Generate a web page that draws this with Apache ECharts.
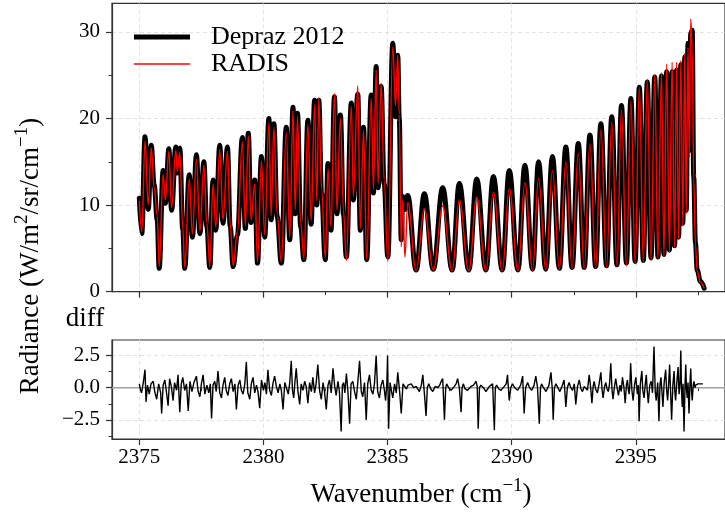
<!DOCTYPE html>
<html><head><meta charset="utf-8">
<script src="https://cdn.jsdelivr.net/npm/echarts@6/dist/echarts.min.js"></script>
<style>html,body{margin:0;padding:0;background:#fff}#c{width:725px;height:516px}</style>
</head><body><div id="c"></div>
<script>
// ---- data ----
const waveX = [
2375.00,2375.10,2375.23,2375.36,2375.48,2375.60,2375.72,2375.80,2375.96,2376.05,
2376.19,2376.30,2376.47,2376.53,2376.63,2376.75,2376.83,2377.01,2377.14,2377.30,
2377.44,2377.60,2377.72,2377.84,2377.97,2378.08,2378.24,2378.37,2378.55,2378.66,
2378.78,2378.95,2379.15,2379.27,2379.39,2379.50,2379.65,2379.76,2379.92,2380.05,
2380.22,2380.31,2380.42,2380.55,2380.72,2380.92,2381.06,2381.19,2381.28,2381.37,
2381.50,2381.63,2381.79,2381.92,2382.06,2382.15,2382.23,2382.34,2382.49,2382.60,
2382.72,2382.86,2382.96,2383.10,2383.22,2383.34,2383.54,2383.62,2383.80,2383.90,
2384.03,2384.16,2384.34,2384.43,2384.54,2384.62,2384.74,2384.86,2385.01,2385.21,
2385.32,2385.41,2385.47,2385.55,2385.61,2385.70,2385.81,
2386.15,2386.48,2386.84,2387.22,2387.60,2387.89,2388.27,2388.59,2388.96,2389.26,
2389.62,2389.90,2390.25,2390.53,2390.84,2391.08,2391.37,2391.64,2391.92,2392.18,
2392.43,2392.68,2392.92,2393.15,2393.38,2393.59,2393.82,2394.03,2394.24,2394.42,
2394.62,2394.80,2394.97,2395.14,2395.30,2395.46,2395.61,2395.76,2395.89,2396.03,
2396.13,2396.24,2396.35,2396.46,2396.56,2396.64,2396.72,2396.81,2396.89,2396.97,
2397.03,2397.10,2397.15,2397.21,2397.27,2397.33,2397.40,2397.47,2397.60,2397.75
];
const depraz = [
10.8,6.7,17.9,9.5,16.9,12.3,8.3,2.7,14.0,10.2,
16.5,9.4,16.7,13.7,16.6,7.1,2.7,13.5,6.3,15.8,
6.7,15.0,7.5,2.8,12.9,7.1,16.9,7.9,16.7,7.5,
2.9,6.5,17.8,7.3,18.3,8.0,12.9,3.3,15.6,6.3,
20.0,8.3,19.4,8.7,3.3,19.0,6.0,21.3,9.0,20.6,
7.5,3.7,19.8,7.8,22.1,10.0,22.1,11.4,3.7,14.8,
7.1,22.5,9.0,20.4,9.0,4.0,21.8,10.6,22.8,7.1,
19.0,3.7,22.7,11.4,26.0,12.0,23.7,12.5,4.0,28.7,
20.2,27.3,20.0,6.0,11.0,9.5,11.1,
2.5,11.3,2.6,12.0,2.5,12.5,2.5,13.0,2.5,13.3,
2.5,14.0,2.5,14.6,2.6,15.0,2.6,15.6,2.7,16.7,
2.8,17.1,2.8,18.1,2.9,19.4,3.0,20.2,3.1,21.5,
3.3,22.3,3.5,23.6,3.6,24.2,3.9,24.8,4.0,24.9,
4.3,25.4,4.8,25.4,5.3,25.6,6.3,26.2,7.9,27.1,
9.4,28.7,16.3,29.8,30.2,13.3,5.6,2.5,1.2,0.4
];
const radis = [
10.5,6.9,17.4,10.0,16.6,12.0,8.8,2.9,13.5,10.6,
16.2,9.7,16.3,13.9,16.1,7.4,2.8,13.0,6.7,15.3,
7.0,14.6,7.9,2.9,12.4,7.5,16.4,8.3,16.2,7.8,
3.0,6.8,17.3,7.6,18.0,8.3,12.4,3.4,15.1,6.6,
19.5,8.8,19.0,9.0,3.4,18.4,6.3,20.9,9.5,20.2,
7.9,3.8,19.3,8.2,21.6,10.5,22.4,11.9,3.9,14.2,
7.5,22.9,9.4,20.0,9.5,3.6,21.4,11.0,23.8,7.3,
18.6,3.7,22.3,11.8,25.6,12.5,24.1,12.9,3.5,28.3,
21.5,27.3,20.5,5.2,10.6,4.0,10.3,
2.4,9.6,2.5,9.9,2.4,10.6,2.4,10.9,2.4,11.5,
2.4,11.9,2.4,12.6,2.5,13.1,2.5,14.0,2.6,15.0,
2.6,16.0,2.6,17.1,2.7,18.7,2.8,19.6,2.9,21.0,
3.0,22.0,3.2,23.6,3.4,24.5,3.6,25.0,3.8,25.3,
4.1,26.3,4.6,26.5,5.1,26.5,6.1,26.7,7.6,27.5,
9.0,28.2,15.5,31.5,28.0,13.0,5.4,2.4,1.1,0.4
];
const diffPoints = [
[2375.00,0.3],[2375.05,-0.2],[2375.09,-0.4],[2375.16,0.4],[2375.23,1.4],[2375.27,-1.1],[2375.33,0.2],[2375.40,-0.5],
[2375.47,0.3],[2375.56,0.5],[2375.62,-0.3],[2375.70,-0.9],[2375.78,0.3],[2375.86,-0.4],[2375.90,-2.0],[2375.96,0.2],
[2376.03,0.6],[2376.09,-0.3],[2376.16,-1.4],[2376.22,0.7],[2376.29,0.1],[2376.36,-1.0],[2376.42,0.4],[2376.50,-0.2],
[2376.56,1.0],[2376.63,-1.9],[2376.69,0.3],[2376.75,0.8],[2376.83,-0.2],[2376.90,0.3],[2376.97,-1.8],[2377.04,0.5],
[2377.12,-0.3],[2377.20,0.4],[2377.30,0.9],[2377.37,-0.3],[2377.44,-0.7],[2377.50,0.3],[2377.57,1.0],[2377.64,-0.5],
[2377.72,0.2],[2377.80,-0.4],[2377.86,0.3],[2377.91,-2.4],[2377.97,0.2],[2378.04,0.5],[2378.10,-0.3],[2378.17,1.3],
[2378.24,-0.4],[2378.31,-0.8],[2378.37,0.2],[2378.44,0.8],[2378.50,-0.2],[2378.57,-0.6],[2378.64,0.3],[2378.71,0.7],
[2378.78,-0.3],[2378.85,0.3],[2378.91,-1.7],[2378.98,0.2],[2379.05,0.6],[2379.11,-0.2],[2379.18,-0.5],[2379.25,0.3],
[2379.31,2.0],[2379.37,-0.4],[2379.45,-0.9],[2379.51,0.3],[2379.58,0.8],[2379.65,-0.4],[2379.72,0.2],[2379.78,-0.3],
[2379.85,-1.6],[2379.92,0.6],[2380.00,-0.2],[2380.06,0.4],[2380.12,-0.5],[2380.18,1.4],[2380.25,-0.2],[2380.32,-0.6],
[2380.38,0.3],[2380.45,0.9],[2380.52,0.1],[2380.59,-0.4],[2380.66,0.3],[2380.72,-0.2],[2380.79,-1.7],[2380.86,0.4],
[2380.92,0.3],[2381.00,-0.5],[2381.06,0.4],[2381.12,2.1],[2381.17,-0.2],[2381.22,-0.8],[2381.27,0.5],[2381.32,1.5],
[2381.39,-0.3],[2381.46,-1.3],[2381.52,0.3],[2381.59,-0.2],[2381.66,0.5],[2381.72,0.1],[2381.79,-1.2],[2381.86,0.4],
[2381.93,-0.3],[2381.99,0.8],[2382.06,-0.4],[2382.12,0.3],[2382.19,1.8],[2382.26,-0.2],[2382.33,-0.9],[2382.40,0.4],
[2382.46,-0.3],[2382.53,-1.7],[2382.60,0.2],[2382.66,0.6],[2382.73,-0.4],[2382.80,1.5],[2382.87,0.1],[2382.93,-0.6],
[2383.00,0.5],[2383.06,-0.3],[2383.13,-3.4],[2383.18,0.2],[2383.23,0.4],[2383.28,-0.4],[2383.34,1.1],[2383.40,-0.2],
[2383.47,-2.8],[2383.53,0.3],[2383.60,0.5],[2383.67,-0.3],[2383.74,-0.9],[2383.80,0.4],[2383.87,2.1],[2383.94,-0.3],
[2384.00,-0.7],[2384.07,0.4],[2384.14,-2.5],[2384.20,0.3],[2384.27,1.0],[2384.34,-0.2],[2384.41,-0.5],[2384.47,0.3],
[2384.54,2.5],[2384.60,-0.3],[2384.67,-0.8],[2384.74,0.2],[2384.81,0.6],[2384.87,-0.2],[2384.92,-1.0],[2384.97,0.3],
[2385.00,2.5],[2385.04,-3.2],[2385.10,0.4],[2385.16,-0.3],[2385.21,-0.8],[2385.28,0.3],[2385.35,-0.4],[2385.41,1.2],
[2385.48,-0.2],[2385.55,-2.0],[2385.62,0.3],[2385.68,0.4],[2385.76,-0.1],[2385.82,0.2],[2385.88,0.2],[2385.95,0.3],
[2386.05,0.0],[2386.15,0.1],[2386.28,-0.3],[2386.36,0.2],[2386.42,1.0],[2386.48,-0.4],[2386.55,-2.2],[2386.60,0.0],
[2386.66,0.3],[2386.74,-0.1],[2386.82,-0.3],[2386.92,0.1],[2387.02,0.0],[2387.10,0.2],[2387.16,0.5],[2387.22,0.7],
[2387.29,-2.5],[2387.34,0.0],[2387.38,0.3],[2387.46,0.0],[2387.56,-0.2],[2387.69,0.1],[2387.76,0.3],[2387.82,0.7],
[2387.89,0.0],[2387.96,-1.9],[2388.00,0.0],[2388.05,0.3],[2388.12,-0.1],[2388.22,-0.2],[2388.36,0.1],[2388.46,0.2],
[2388.56,0.5],[2388.61,0.1],[2388.65,-3.2],[2388.70,0.0],[2388.76,0.2],[2388.86,0.0],[2388.96,-0.3],[2389.10,0.1],
[2389.18,0.2],[2389.23,0.3],[2389.30,-3.3],[2389.34,0.0],[2389.39,0.2],[2389.48,-0.1],[2389.57,-0.2],[2389.70,0.1],
[2389.78,0.3],[2389.83,1.0],[2389.90,-1.0],[2389.96,0.0],[2390.03,0.3],[2390.12,0.0],[2390.24,-0.2],[2390.36,0.2],
[2390.44,0.9],[2390.50,-2.0],[2390.56,0.0],[2390.64,0.4],[2390.72,0.0],[2390.81,-0.2],[2390.90,0.2],[2390.97,0.9],
[2391.04,0.0],[2391.11,-2.8],[2391.16,0.0],[2391.20,0.3],[2391.28,0.0],[2391.38,-0.3],[2391.50,0.2],[2391.58,1.2],
[2391.63,0.0],[2391.67,-2.5],[2391.72,0.0],[2391.78,0.3],[2391.86,0.0],[2391.94,-0.3],[2392.04,0.2],[2392.11,0.6],
[2392.18,-1.5],[2392.24,0.0],[2392.31,0.4],[2392.38,0.0],[2392.45,-0.2],[2392.52,0.3],[2392.58,-1.3],[2392.65,0.1],
[2392.72,0.6],[2392.79,-0.1],[2392.85,-0.3],[2392.92,0.1],[2392.99,0.2],[2393.05,-0.2],[2393.12,1.0],[2393.18,0.0],
[2393.23,-1.2],[2393.28,0.1],[2393.32,0.5],[2393.38,-0.1],[2393.45,-0.4],[2393.52,0.3],[2393.59,1.2],[2393.64,-0.2],
[2393.68,-0.8],[2393.74,0.1],[2393.79,0.4],[2393.84,-0.1],[2393.89,-0.3],[2393.94,0.3],[2393.99,1.9],[2394.04,-0.2],
[2394.08,-0.9],[2394.14,0.1],[2394.19,0.7],[2394.25,-0.1],[2394.30,-0.6],[2394.36,0.2],[2394.41,-0.3],[2394.46,0.8],
[2394.52,0.0],[2394.57,-1.2],[2394.62,0.2],[2394.66,0.6],[2394.70,-0.2],[2394.73,-0.5],[2394.76,0.3],[2394.79,1.9],
[2394.84,-0.2],[2394.89,-1.0],[2394.95,0.3],[2395.00,0.8],[2395.06,-0.5],[2395.10,0.2],[2395.13,-2.6],[2395.18,0.3],
[2395.24,1.3],[2395.28,-0.2],[2395.33,-0.8],[2395.38,0.3],[2395.42,1.0],[2395.46,-0.3],[2395.50,-1.2],[2395.56,0.2],
[2395.62,0.5],[2395.67,-0.4],[2395.73,3.2],[2395.78,-0.3],[2395.82,-1.0],[2395.88,0.4],[2395.93,-2.6],[2395.97,0.2],
[2396.01,0.8],[2396.05,-0.3],[2396.09,-1.5],[2396.14,0.4],[2396.20,1.4],[2396.24,-0.2],[2396.28,-1.0],[2396.32,0.3],
[2396.36,1.8],[2396.40,-0.4],[2396.44,-2.5],[2396.49,0.2],[2396.54,1.3],[2396.57,-0.3],[2396.60,-1.0],[2396.65,0.4],
[2396.70,1.6],[2396.74,-0.5],[2396.78,0.4],[2396.81,2.9],[2396.84,-0.3],[2396.87,-1.5],[2396.90,0.3],[2396.94,-3.4],
[2396.98,0.2],[2397.01,1.8],[2397.04,-0.2],[2397.07,-0.8],[2397.10,0.4],[2397.14,-2.0],[2397.18,0.3],[2397.21,1.5],
[2397.24,-0.2],[2397.27,-1.0],[2397.31,0.2],[2397.34,0.5],[2397.38,0.0],[2397.41,0.2],[2397.50,0.3],[2397.61,0.3],
[2397.70,0.3]
];
const xMajorTicks = [2375, 2380, 2385, 2390, 2395];
const xMinorTicks = [2377.5, 2382.5, 2387.5, 2392.5, 2397.5];
const yTopTicks = [0, 10, 20, 30];
const yTopMinor = [5, 15, 25];
const yDiffTicks = [-2.5, 0, 2.5];
const yDiffMinor = [-3.75, -1.25, 1.25];
const seriesNames = ['Depraz 2012', 'RADIS'];

// ---- layout / style ----
const X_MIN = 2373.9, X_MAX = 2398.59;
const TOP_MIN = 0, TOP_MAX = 33.3;
const BOT_MIN = -3.99, BOT_MAX = 3.71;
const FONT = 'Liberation Serif';
const SPINE = '#333';
const GRIDC = '#dcdcdc';
const BLACK_W = 5, RED_W = 1.4;

const chart = echarts.init(document.getElementById('c'), null, {renderer: 'canvas'});

function xMain(gi, showLabel) {
  return {
    type: 'value', gridIndex: gi, min: X_MIN, max: X_MAX, position: 'bottom',
    axisLine: {show: true, onZero: false, lineStyle: {color: SPINE, width: 1.2}},
    axisTick: {show: true, customValues: xMajorTicks, length: 6, inside: false, lineStyle: {color: SPINE, width: 1.2}},
    axisLabel: {show: showLabel, customValues: xMajorTicks, margin: 8, fontFamily: FONT, fontSize: 21, color: '#000',
      formatter: v => String(Math.round(v))},
    splitLine: {show: true, lineStyle: {color: GRIDC, type: [4, 3], width: 0.8}},
    minorTick: {show: false}
  };
}
function xMinor(gi) {
  return {
    type: 'value', gridIndex: gi, min: X_MIN, max: X_MAX, position: 'bottom', offset: 0,
    axisLine: {show: false},
    axisTick: {show: true, customValues: xMinorTicks, length: 3.5, lineStyle: {color: SPINE, width: 1}},
    axisLabel: {show: false}, splitLine: {show: false}
  };
}
function yMain(gi, mn, mx, ticks, fmt) {
  return {
    type: 'value', gridIndex: gi, min: mn, max: mx, position: 'left',
    axisLine: {show: true, onZero: false, lineStyle: {color: SPINE, width: 1.2}},
    axisTick: {show: true, customValues: ticks, length: 6, lineStyle: {color: SPINE, width: 1.2}},
    axisLabel: {show: true, customValues: ticks, margin: 12, fontFamily: FONT, fontSize: 21, color: '#000', formatter: fmt},
    splitLine: {show: true, lineStyle: {color: GRIDC, type: [4, 3], width: 0.8}}
  };
}
function yMinor(gi, mn, mx, ticks) {
  return {
    type: 'value', gridIndex: gi, min: mn, max: mx, position: 'left', offset: 0,
    axisLine: {show: false},
    axisTick: {show: true, customValues: ticks, length: 3.5, lineStyle: {color: SPINE, width: 1}},
    axisLabel: {show: false}, splitLine: {show: false}
  };
}

const fmtTop = v => String(Math.round(v));
const fmtBot = v => (v < 0 ? '\u2212' : '') + Math.abs(v).toFixed(1);

const depData = waveX.map((x, i) => [x, depraz[i]]);
const radData = waveX.map((x, i) => [x, radis[i]]);

const legendCommon = {
  orient: 'vertical', left: 134, padding: 0, itemGap: 0, itemWidth: 56, selectedMode: false, icon: 'rect',
  textStyle: {fontFamily: FONT, fontSize: 26, color: '#000', padding: [0, 0, 0, 16], lineHeight: 28}
};

const option = {
  animation: false,
  backgroundColor: '#fff',
  grid: [
    {left: 112, top: 3.3, width: 614, height: 288.4, show: true, borderColor: SPINE, borderWidth: 1.2, backgroundColor: 'transparent'},
    {left: 112, top: 340, width: 614, height: 99, show: true, borderColor: SPINE, borderWidth: 1.2, backgroundColor: 'transparent'}
  ],
  xAxis: [xMain(0, false), xMinor(0), xMain(1, true), xMinor(1)],
  yAxis: [
    yMain(0, TOP_MIN, TOP_MAX, yTopTicks, fmtTop), yMinor(0, TOP_MIN, TOP_MAX, yTopMinor),
    yMain(1, BOT_MIN, BOT_MAX, yDiffTicks, fmtBot), yMinor(1, BOT_MIN, BOT_MAX, yDiffMinor)
  ],
  legend: [
    Object.assign({}, legendCommon, {data: [seriesNames[0]], top: 23, itemHeight: BLACK_W}),
    Object.assign({}, legendCommon, {data: [seriesNames[1]], top: 50, itemHeight: RED_W})
  ],
  series: [
    {name: seriesNames[0], type: 'line', xAxisIndex: 0, yAxisIndex: 0, data: depData,
      symbol: 'none', showSymbol: false, smooth: 0.4, smoothMonotone: 'x', z: 2,
      lineStyle: {color: '#000', width: BLACK_W, join: 'round', cap: 'round'}, itemStyle: {color: '#000'}},
    {name: seriesNames[1], type: 'line', xAxisIndex: 0, yAxisIndex: 0, data: radData,
      symbol: 'none', showSymbol: false, smooth: 0.4, smoothMonotone: 'x', z: 3,
      lineStyle: {color: '#ff0000', width: RED_W}, itemStyle: {color: '#ff0000'}},
    {name: 'zero', type: 'line', xAxisIndex: 2, yAxisIndex: 2, data: [[X_MIN, 0], [X_MAX, 0]],
      symbol: 'none', showSymbol: false, z: 1, silent: true,
      lineStyle: {color: '#a0a0a0', width: 1.6}},
    {name: 'diff', type: 'line', xAxisIndex: 2, yAxisIndex: 2, data: diffPoints,
      symbol: 'none', showSymbol: false, z: 2,
      lineStyle: {color: '#000', width: 1.4}}
  ],
  graphic: [
    {type: 'text', x: 31, y: 256, rotation: Math.PI / 2,
      style: {text: '{a|Radiance (W/m}{s|2}{a|/sr/cm}{s|\u22121}{a|)}',
        rich: {a: {fontFamily: FONT, fontSize: 27, fill: '#000', lineHeight: 36, verticalAlign: 'middle'},
               s: {fontFamily: FONT, fontSize: 19, fill: '#000', lineHeight: 36, verticalAlign: 'top'}},
        align: 'center', verticalAlign: 'middle', textAlign: 'center', textVerticalAlign: 'middle'}},
    {type: 'text', x: 421, y: 495,
      style: {text: '{a|Wavenumber (cm}{s|\u22121}{a|)}',
        rich: {a: {fontFamily: FONT, fontSize: 27, fill: '#000', lineHeight: 36, verticalAlign: 'middle'},
               s: {fontFamily: FONT, fontSize: 19, fill: '#000', lineHeight: 36, verticalAlign: 'top'}},
        align: 'center', verticalAlign: 'middle', textAlign: 'center', textVerticalAlign: 'middle'}},
    {type: 'text', x: 85, y: 319,
      style: {text: 'diff', fontFamily: FONT, fontSize: 27, fill: '#000',
        align: 'center', verticalAlign: 'middle', textAlign: 'center', textVerticalAlign: 'middle'}}
  ]
};
chart.setOption(option);
</script>
</body></html>
